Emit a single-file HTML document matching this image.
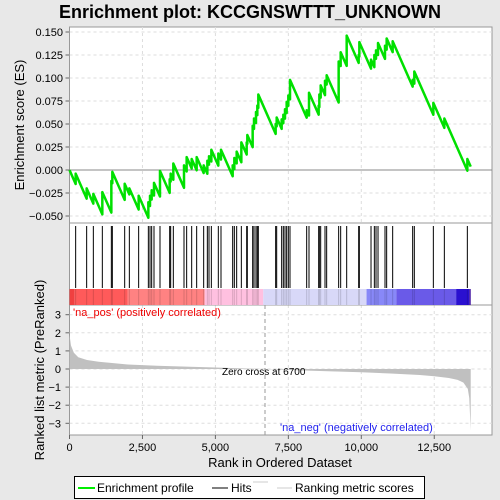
<!DOCTYPE html>
<html><head><meta charset="utf-8"><style>
body{margin:0;background:#e8e8e8;}
svg{display:block;font-family:"Liberation Sans",sans-serif;}
</style></head><body>
<svg width="500" height="500">
<text x="250" y="18" text-anchor="middle" font-size="18" font-weight="bold">Enrichment plot: KCCGNSWTTT_UNKNOWN</text>
<rect x="69.5" y="27" width="422.5" height="408" fill="#fff" stroke="#999"/>
<g id="grid"></g>
<line x1="69.5" y1="223" x2="492" y2="223" stroke="#999"/>
<line x1="69.5" y1="305" x2="492" y2="305" stroke="#999"/>
<g id="colorbar"></g>
<g id="hits"></g>
<g id="metric"></g>
<g id="es"></g>
<g id="axes"></g>
<text x="73" y="316" font-size="11" fill="#e00">'na_pos' (positively correlated)</text>
<text x="280" y="431" font-size="11" fill="#22e">'na_neg' (negatively correlated)</text>
<text x="222" y="375" font-size="10">Zero cross at 6700</text>
<text x="0" y="0" transform="translate(24,125) rotate(-90)" text-anchor="middle" font-size="13">Enrichment score (ES)</text>
<text x="0" y="0" transform="translate(44,370) rotate(-90)" text-anchor="middle" font-size="13">Ranked list metric (PreRanked)</text>
<text x="280" y="467" text-anchor="middle" font-size="13">Rank in Ordered Dataset</text>
<g>
<rect x="74.5" y="476.5" width="350" height="22" fill="#fff" stroke="#000"/>
<line x1="78" y1="488" x2="95" y2="488" stroke="#0e0" stroke-width="2"/>
<text x="97" y="492" font-size="12">Enrichment profile</text>
<line x1="212" y1="488" x2="228" y2="488" stroke="#000"/>
<text x="231" y="492" font-size="12">Hits</text>
<line x1="253" y1="482" x2="268" y2="482" stroke="#ccc"/>
<line x1="277" y1="488" x2="292" y2="488" stroke="#ccc"/>
<text x="295" y="492" font-size="12">Ranking metric scores</text>
</g>
</svg>
<script>
const hitRanks=[211,588,817,1125,1434,1468,1891,2051,2370,2702,2759,2816,2896,3101,3433,3467,3558,3924,4015,4187,4358,4598,4724,4781,4861,5100,5192,5592,5649,5729,5889,6072,6094,6277,6323,6391,6437,6471,7065,7100,7271,7328,7385,7442,7499,7557,8128,8208,8539,8562,8608,8756,8813,9224,9293,9499,9910,9933,10333,10447,10504,10573,10812,10869,11075,11760,11817,12469,12846,13634];
const esPeaks=[-0.004,-0.020,-0.026,-0.024,-0.012,-0.002,-0.015,-0.020,-0.028,-0.035,-0.028,-0.022,-0.014,-0.001,-0.010,-0.004,0.007,0.005,0.014,0.012,0.014,0.005,0.010,0.015,0.022,0.018,0.022,0.005,0.013,0.020,0.030,0.030,0.038,0.048,0.056,0.063,0.070,0.082,0.050,0.057,0.055,0.060,0.066,0.074,0.081,0.098,0.065,0.084,0.070,0.082,0.092,0.097,0.103,0.118,0.128,0.146,0.125,0.139,0.120,0.125,0.130,0.138,0.135,0.143,0.140,0.098,0.107,0.073,0.056,0.012];
const esSlope=7.2e-5;
const totalRanks=13750;
const metricRanks=[0,50,150,300,600,1000,2000,3000,5000,6700,8000,10000,11000,12000,12500,13000,13300,13500,13650,13700,13749];
const metricVals=[1.9,1.3,0.9,0.65,0.5,0.4,0.25,0.18,0.08,0,-0.08,-0.18,-0.25,-0.33,-0.4,-0.5,-0.6,-0.75,-1.1,-1.6,-3.4];
const esTicks=[0.150,0.125,0.100,0.075,0.050,0.025,0.000,-0.025,-0.050];
const metricTicks=[3,2,1,0,-1,-2,-3];
const xTicks=[0,2500,5000,7500,10000,12500];
const xTickLabels=["0","2,500","5,000","7,500","10,000","12,500"];
const barStops=[0,180,1990,4630,6640,10180,11200,13250,13700,13750];
const barColors=["#f04040","#ff5a5a","#ff8282","#ffc0e0","#d8d8f8","#8888f8","#6a5ae8","#2a10d0","#4010a0"];
const NS="http://www.w3.org/2000/svg";
const X=r=>69.5+r*0.02918;
const YE=v=>170-v*920;
const YM=v=>369-v*18.1;
function mk(t,a,p){const e=document.createElementNS(NS,t);for(const k in a)e.setAttribute(k,a[k]);p.appendChild(e);return e;}
const grid=document.getElementById('grid'),axes=document.getElementById('axes');
xTicks.forEach((t,i)=>{
 if(t>0){const g=mk('line',{x1:X(t),x2:X(t),y1:27,y2:223,stroke:'#ddd','stroke-dasharray':'3,3'},grid);
 
 const g2=mk('line',{x1:X(t),x2:X(t),y1:305,y2:435,stroke:'#ddd','stroke-dasharray':'3,3'},grid);
 }
 const tk=mk('line',{x1:X(t),x2:X(t),y1:435,y2:439,stroke:'#666'},axes);
 
 const tx=mk('text',{x:X(t),y:451,'text-anchor':'middle','font-size':11},axes);tx.textContent=xTickLabels[i];
 
});
esTicks.forEach(t=>{
 const g=mk('line',{x1:69.5,x2:492,y1:YE(t),y2:YE(t),stroke:t===0?'#888':'#ddd','stroke-dasharray':t===0?'':'3,3'},grid);
 
 const tk=mk('line',{x1:65.5,x2:69.5,y1:YE(t),y2:YE(t),stroke:'#666'},axes);
 
 const tx=mk('text',{x:63,y:YE(t)+4,'text-anchor':'end','font-size':11},axes);tx.textContent=t.toFixed(3).replace('-','\u2212');
 
});
metricTicks.forEach(t=>{
 const g=mk('line',{x1:69.5,x2:492,y1:YM(t),y2:YM(t),stroke:'#ddd','stroke-dasharray':'3,3'},grid);
 
 const tk=mk('line',{x1:65.5,x2:69.5,y1:YM(t),y2:YM(t),stroke:'#666'},axes);
 
 const tx=mk('text',{x:61,y:YM(t)+4,'text-anchor':'end','font-size':11},axes);tx.textContent=String(t).replace('-','\u2212');
 
});
const zl=mk('line',{x1:X(6700),x2:X(6700),y1:305,y2:435,stroke:'#999','stroke-dasharray':'4,3'},grid);

const cb=document.getElementById('colorbar');
barColors.forEach((c,i)=>{const r=mk('rect',{x:X(barStops[i]),y:289,width:X(barStops[i+1])-X(barStops[i]),height:16,fill:c},cb);
 });
const hg=document.getElementById('hits');
hitRanks.forEach(r=>{const l=mk('line',{x1:X(r),x2:X(r),y1:226,y2:288,stroke:'#000'},hg);
 
 const l2=mk('line',{x1:X(r),x2:X(r),y1:289,y2:305,stroke:'rgba(0,0,0,0.15)'},cb);
 });
let md='M'+X(0)+','+YM(0);
metricRanks.forEach((r,i)=>{md+=' L'+X(r)+','+YM(metricVals[i]);});
md+=' L'+X(totalRanks)+','+YM(0)+' Z';
const ma=mk('path',{d:md,fill:'#c0c0c0'},document.getElementById('metric'));

let pts=[[0,0]],prevR=0,prevV=0;
hitRanks.forEach((r,i)=>{const low=prevV-esSlope*(r-prevR);pts.push([r,low]);pts.push([r,esPeaks[i]]);prevR=r;prevV=esPeaks[i];});
pts.push([totalRanks,Math.max(0,prevV-esSlope*(totalRanks-prevR))]);
const ed='M'+pts.map(p=>X(p[0])+','+YE(p[1])).join(' L');
const el=mk('path',{d:ed,fill:'none',stroke:'#00e000','stroke-width':2.5,'stroke-linejoin':'round'},document.getElementById('es'));

</script>
</body></html>
